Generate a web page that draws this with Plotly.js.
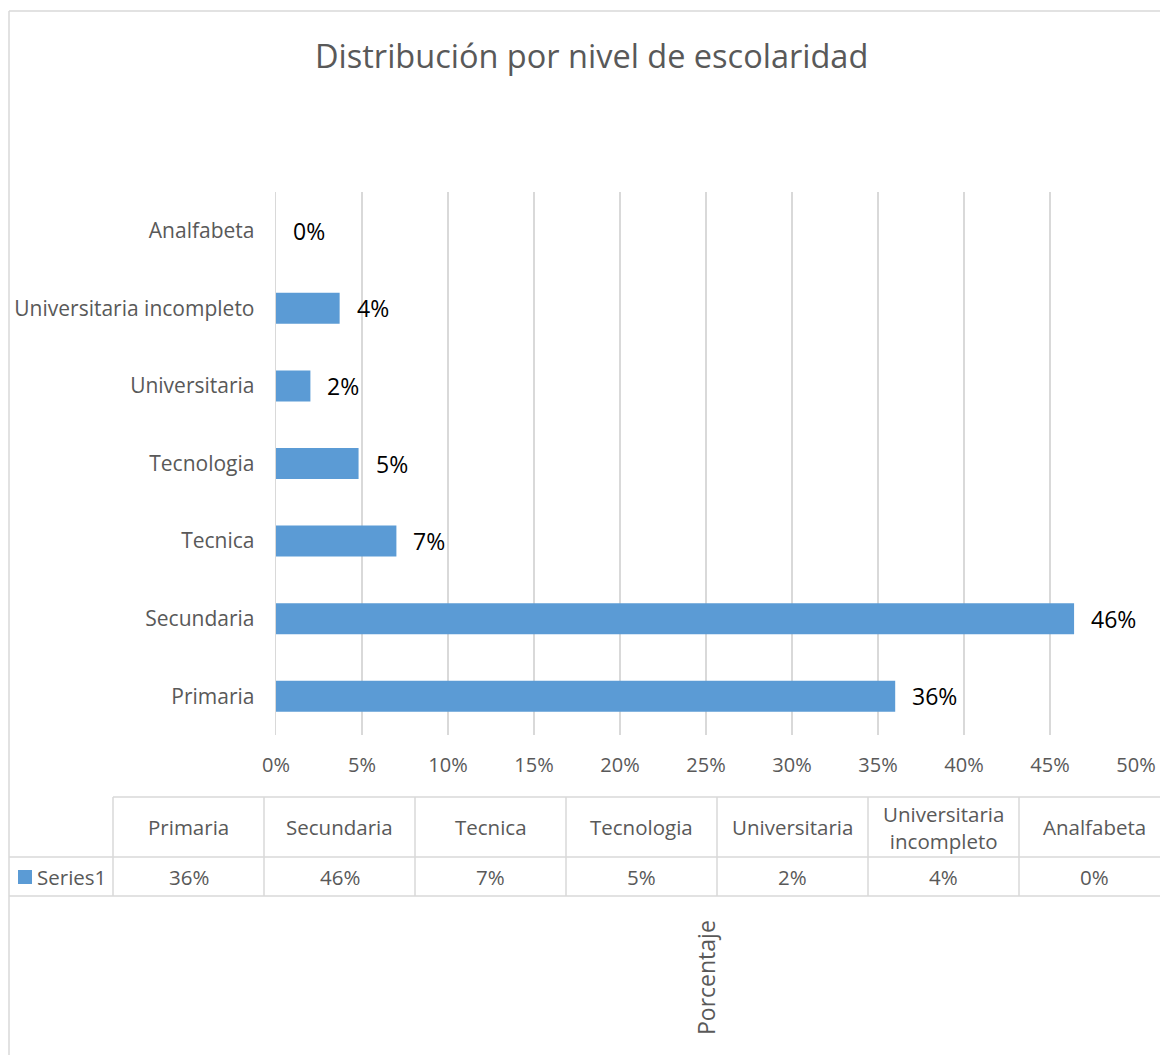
<!DOCTYPE html>
<html><head><meta charset="utf-8">
<script src="https://cdn.plot.ly/plotly-3.0.1.min.js"></script>
<style>html,body{margin:0;padding:0;background:#fff}#chart{width:1160px;height:1055px}</style>
</head><body><div id="chart"></div>
<script>
const categories = ["Primaria","Secundaria","Tecnica","Tecnologia","Universitaria","Universitaria incompleto","Analfabeta"];
const tableHeaders = ["Primaria","Secundaria","Tecnica","Tecnologia","Universitaria","Universitaria<br>incompleto","Analfabeta"];
const values = [36.0, 46.4, 7.0, 4.8, 2.0, 3.7, 0];
const valueLabels = ["36%","46%","7%","5%","2%","4%","0%"];
const xTickValues = [0,5,10,15,20,25,30,35,40,45,50];
const seriesName = "Series1";
const chartTitle = "Distribución por nivel de escolaridad";
const axisTitle = "Porcentaje";

const FONT = "'Open Sans', sans-serif";
const GRAY = "#595959";
const LINE = "#d9d9d9";
const BAR = "#5b9bd5";

// pixel -> paper helpers (plot area 276..1136 x 192..735)
const L = 276, R = 1136, T = 192, B = 735;
const xp = px => (px - L) / (R - L);
const yp = py => (B - py) / (B - T);

const shapes = [];
const annotations = [];
const hline = (x0, x1, y) => shapes.push({type:'line', xref:'paper', yref:'paper', x0:xp(x0), x1:xp(x1), y0:yp(y), y1:yp(y), line:{color:LINE, width:1.5}});
const vline = (x, y0, y1) => shapes.push({type:'line', xref:'paper', yref:'paper', x0:xp(x), x1:xp(x), y0:yp(y0), y1:yp(y1), line:{color:LINE, width:1.5}});

// outer frame
hline(9, 1200, 11);
vline(9, 11, 1100);

// data table
const colLeft = 113, colW = 151, rowTop = 797, rowMid = 857, rowBot = 896;
const tableRight = colLeft + colW * tableHeaders.length;
hline(colLeft, tableRight, rowTop);
hline(9, tableRight, rowMid);
hline(9, tableRight, rowBot);
for (let i = 0; i <= tableHeaders.length; i++) vline(colLeft + colW * i, rowTop, rowBot);

tableHeaders.forEach((h, i) => {
  const cx = colLeft + colW * (i + 0.5);
  annotations.push({xref:'paper', yref:'paper', x:xp(cx), y:yp((rowTop+rowMid)/2), text:h, showarrow:false,
    xanchor:'center', yanchor:'middle', font:{family:FONT, size:20.5, color:GRAY}});
  annotations.push({xref:'paper', yref:'paper', x:xp(cx), y:yp((rowMid+rowBot)/2), text:valueLabels[i], showarrow:false,
    xanchor:'center', yanchor:'middle', font:{family:FONT, size:20.5, color:GRAY}});
});
// legend key
shapes.push({type:'rect', xref:'paper', yref:'paper', x0:xp(18), x1:xp(32), y0:yp(870), y1:yp(884), fillcolor:BAR, line:{width:0}});
annotations.push({xref:'paper', yref:'paper', x:xp(35), y:yp((rowMid+rowBot)/2), text:seriesName, showarrow:false,
  xanchor:'left', yanchor:'middle', font:{family:FONT, size:20.5, color:GRAY}});

// data labels
categories.forEach((c, i) => {
  annotations.push({xref:'x', yref:'y', x:values[i], y:c, text:valueLabels[i], showarrow:false,
    xanchor:'left', yanchor:'middle', xshift:15, font:{family:FONT, size:23, color:'#000'}});
});

// title & axis title
annotations.push({xref:'paper', yref:'paper', x:xp(591), y:yp(55), text:chartTitle, showarrow:false,
  xanchor:'center', yanchor:'middle', font:{family:FONT, size:32.5, color:GRAY}});
annotations.push({xref:'paper', yref:'paper', x:xp(706), y:yp(978), text:axisTitle, showarrow:false, textangle:-90,
  xanchor:'center', yanchor:'middle', font:{family:FONT, size:23, color:GRAY}});

const data = [{
  type:'bar', orientation:'h', x:values, y:categories, name:seriesName,
  marker:{color:BAR}, hoverinfo:'x+y'
}];

const layout = {
  width:1160, height:1055,
  margin:{l:L, r:1160-R, t:T, b:1055-B, pad:0},
  paper_bgcolor:'#fff', plot_bgcolor:'#fff',
  showlegend:false,
  bargap:0.6,
  font:{family:FONT, color:GRAY},
  xaxis:{range:[0,50], tickvals:xTickValues, ticktext:xTickValues.map(v=>v+'%'),
    showgrid:true, gridcolor:LINE, gridwidth:1.3, zeroline:false, showline:false,
    ticks:'', ticklabelstandoff:16, tickfont:{family:FONT, size:20, color:GRAY}, fixedrange:true},
  yaxis:{type:'category', categoryarray:categories, range:[-0.5, categories.length-0.5],
    showgrid:false, zeroline:false, showline:true, linecolor:LINE, linewidth:1.3,
    ticks:'', ticklabelstandoff:16, tickfont:{family:FONT, size:21, color:GRAY}, fixedrange:true},
  shapes, annotations
};

Plotly.newPlot('chart', data, layout, {displayModeBar:false, staticPlot:true});
</script>
</body></html>
